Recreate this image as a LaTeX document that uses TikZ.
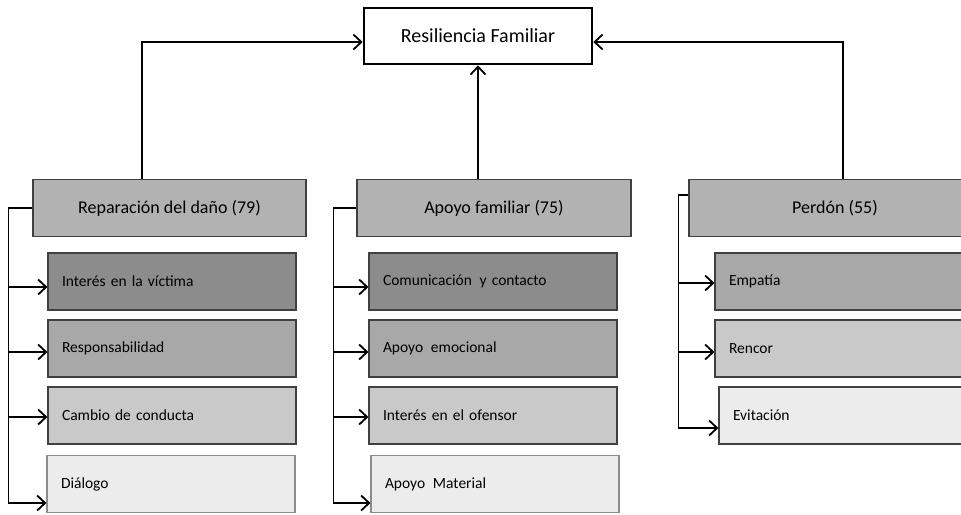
\documentclass[tikz,border=0pt]{standalone}
\usepackage{fontspec}
\setmainfont{Carlito}
\usepackage{xcolor}
\usetikzlibrary{arrows,arrows.meta}

\definecolor{grayHead}{gray}{0.70}
\definecolor{grayA}{gray}{0.55}
\definecolor{grayB}{gray}{0.66}
\definecolor{grayC}{gray}{0.79}
\definecolor{grayD}{gray}{0.925}

\begin{document}
\begin{tikzpicture}[x=1pt,y=-1pt,
	box/.style = {draw=black!75, line width=1.1pt, minimum height=57pt, inner sep=0pt, text=black},
	head/.style = {box, fill=grayHead, minimum width=#1, font=\fontsize{18}{21}\selectfont},
	item/.style = {box, fill=#1, text width=220pt, inner xsep=14pt, align=left, font=\fontsize{15.5}{18}\selectfont},
	conn/.style = {line width=1.8pt, -{Straight Barb[length=8pt,width=15pt,line width=1.8pt]}}]
	    \useasboundingbox (0,0) rectangle (961,514);
	    % top
	    \node[draw, line width=2.6pt, minimum width=228pt, minimum height=56pt,
	          text=black, font=\fontsize{20}{24}\selectfont] (resil) at (478,36) {Resiliencia Familiar};
	    % headers
	    \node[head=273pt] (repar) at (169.5,208) {Reparación del daño (79)};
	    \node[head=274pt] (apoyo) at (494,208) {Apoyo familiar (75)};
	    \node[head=292pt] (perdon) at (835,208) {Perdón (55)};
	    % items
	    \node[item=grayA] (ri1) at (172,281.5) {Interés en la víctima};
	    \node[item=grayB] (ri2) at (172,348.5) {Responsabilidad};
	    \node[item=grayC] (ri3) at (172,415.5) {Cambio de conducta};
	    \node[item=grayD, draw=black!45] (ri4) at (171,484) {Diálogo};
	    \node[item=grayA] (ai1) at (493,281.5) {Comunicación\, y contacto};
	    \node[item=grayB] (ai2) at (493,348.5) {Apoyo\, emocional};
	    \node[item=grayC] (ai3) at (493,415.5) {Interés en el ofensor};
	    \node[item=grayD, draw=black!45] (ai4) at (495,484) {Apoyo\, Material};
	    \node[item=grayB, text width=250pt] (pi1) at (854,281.5) {Empatía};
	    \node[item=grayC, text width=250pt] (pi2) at (854,348.5) {Rencor};
	    \node[item=grayD, text width=250pt] (pi3) at (858,415.5) {Evitación};
	    % up to the top
	    \draw[conn] ([xshift=-27.5pt]repar.north) |- ([yshift=-6pt]resil.west);
	    \draw[conn] (resil.south |- apoyo.north) -- (resil.south);
	    \draw[conn] ([xshift=8pt]perdon.north) |- ([yshift=-6pt]resil.east);
	    % down to the items
	    \foreach \n/\s in {ri1/-5.5, ri2/-3.5, ri3/-1.5, ri4/-19}
	        \draw[conn] (repar.west) -- ++(-24,0) |- ([yshift=\s pt]\n.west);
	    \foreach \n/\s in {ai1/-5.5, ai2/-3.5, ai3/-1.5, ai4/-19}
	        \draw[conn] (apoyo.west) -- ++(-23,0) |- ([yshift=\s pt]\n.west);
	    \foreach \n/\s in {pi1/-1.5, pi2/-3.5, pi3/-12.5}
	        \draw[conn] ([yshift=13pt]perdon.west) -- ++(-10,0) |- ([yshift=\s pt]\n.west);
	\end{tikzpicture}
\end{document}
